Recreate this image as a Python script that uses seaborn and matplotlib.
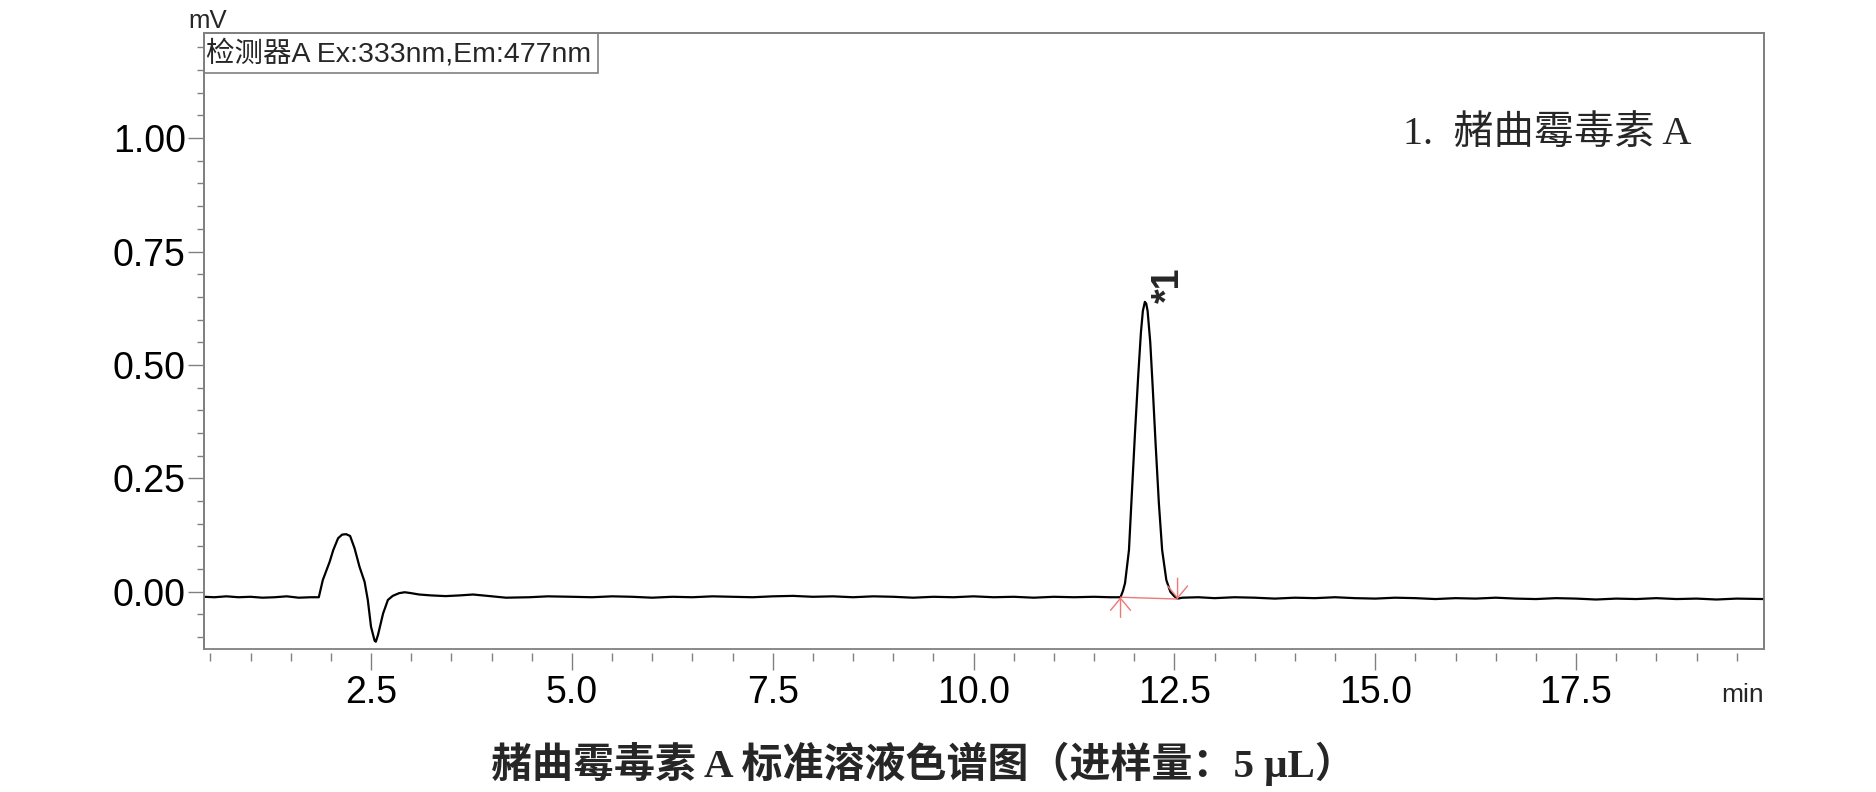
import numpy as np
import pandas as pd
import matplotlib
matplotlib.use('Agg')
import matplotlib.pyplot as plt
import matplotlib.ticker as mticker
from matplotlib.patches import Rectangle
import seaborn as sns

# chromatogram trace (time in min, signal in mV)
base1_t = [0.42, 0.55, 0.70, 0.85, 1.00, 1.15, 1.30, 1.45, 1.60, 1.75, 1.85]
base1_v = [-0.011, -0.012, -0.010, -0.012, -0.011, -0.013, -0.012, -0.010, -0.013, -0.012, -0.012]

void_t = [1.90, 1.985, 2.03, 2.09, 2.14, 2.19, 2.24, 2.295, 2.357, 2.42, 2.46, 2.50,
          2.545, 2.56, 2.587, 2.65, 2.71, 2.77, 2.85, 2.92, 3.00, 3.10]
void_v = [0.026, 0.066, 0.092, 0.118, 0.126, 0.127, 0.123, 0.096, 0.055, 0.022, -0.018, -0.077,
          -0.108, -0.110, -0.095, -0.048, -0.018, -0.009, -0.003, -0.001, -0.003, -0.006]

base2_t = [3.25, 3.43, 3.60, 3.77, 3.95, 4.18, 4.47, 4.70, 5.00, 5.25, 5.50, 5.75, 6.00,
           6.25, 6.50, 6.75, 7.00, 7.25, 7.50, 7.75, 8.00, 8.25, 8.50, 8.75, 9.00, 9.25,
           9.50, 9.75, 10.00, 10.25, 10.50, 10.75, 11.00, 11.25, 11.50, 11.70, 11.83]
base2_v = [-0.008, -0.0095, -0.008, -0.006, -0.009, -0.013, -0.012, -0.010, -0.011, -0.012,
           -0.010, -0.011, -0.013, -0.011, -0.012, -0.010, -0.011, -0.012, -0.010, -0.009,
           -0.011, -0.010, -0.012, -0.010, -0.011, -0.013, -0.011, -0.012, -0.010, -0.012,
           -0.011, -0.013, -0.011, -0.012, -0.011, -0.012, -0.012]

peak_t = [11.86, 11.886, 11.935, 11.967, 12.01, 12.05, 12.084, 12.108, 12.133, 12.15,
          12.167, 12.20, 12.232, 12.266, 12.307, 12.348, 12.40, 12.45, 12.50, 12.54]
peak_v = [0.002, 0.019, 0.092, 0.203, 0.350, 0.476, 0.572, 0.619, 0.639, 0.635,
          0.619, 0.550, 0.446, 0.328, 0.196, 0.092, 0.026, 0.000, -0.010, -0.015]

base3_t = [12.60, 12.80, 13.00, 13.25, 13.50, 13.75, 14.00, 14.25, 14.50, 14.75, 15.00,
           15.25, 15.50, 15.75, 16.00, 16.25, 16.50, 16.75, 17.00, 17.25, 17.50, 17.75,
           18.00, 18.25, 18.50, 18.75, 19.00, 19.25, 19.50, 19.84]
base3_v = [-0.013, -0.012, -0.014, -0.012, -0.013, -0.015, -0.013, -0.014, -0.012, -0.014,
           -0.015, -0.013, -0.014, -0.016, -0.014, -0.015, -0.013, -0.015, -0.016, -0.014,
           -0.015, -0.017, -0.015, -0.016, -0.014, -0.016, -0.015, -0.017, -0.015, -0.016]

# integration marks of peak 1
peak_start = (11.83, -0.012)
peak_end = (12.54, -0.016)
peak_apex = (12.133, 0.639)
peak_label = '*1'

x_major = [2.5, 5.0, 7.5, 10.0, 12.5, 15.0, 17.5]
y_major = [0.0, 0.25, 0.50, 0.75, 1.00]

detector_text = '检测器A Ex:333nm,Em:477nm'
legend_text = '1.  赭曲霉毒素 A'
caption = '赭曲霉毒素 A 标准溶液色谱图（进样量：5 μL）'

df = pd.DataFrame({
    'time': base1_t + void_t + base2_t + peak_t + base3_t,
    'signal': base1_v + void_v + base2_v + peak_v + base3_v,
})

sns.set_theme(style='white')
plt.rcParams['font.family'] = ['Liberation Sans', 'Noto Sans CJK SC', 'DejaVu Sans']
plt.rcParams['axes.unicode_minus'] = False

fig = plt.figure(figsize=(18.76, 7.92), dpi=100)
ax = fig.add_axes([0.1087, 0.1806, 0.8316, 0.7774])

sns.lineplot(data=df, x='time', y='signal', color='black', linewidth=1.6, ax=ax)

ax.set_xlim(0.42, 19.84)
ax.set_ylim(-0.126, 1.231)

red = '#ee7777'
ax.plot([peak_start[0], peak_end[0]], [peak_start[1], peak_end[1]], color=red, lw=1)
arrow = dict(arrowstyle='->,head_length=0.72,head_width=0.6', color=red, lw=1,
             shrinkA=0, shrinkB=0)
ax.annotate('', xy=peak_start, xytext=(0, -14.5), textcoords='offset points', arrowprops=arrow)
ax.annotate('', xy=peak_end, xytext=(0, 15), textcoords='offset points', arrowprops=arrow)

ax.annotate(peak_label, xy=peak_apex, xytext=(17, 12), textcoords='offset points',
            rotation=90, ha='center', va='center', fontsize=27, fontweight='bold')

# frame
gray = '#808080'
for s in ['left', 'right', 'top']:
    ax.spines[s].set_color(gray)
    ax.spines[s].set_linewidth(1.3)
ax.spines['bottom'].set_visible(False)
ax.spines['bottom'].set_position(('outward', 3))
ax.add_patch(Rectangle((0, 0), 1, 1, transform=ax.transAxes, fill=False,
                       ec=gray, lw=1.3, clip_on=False))

ax.xaxis.set_major_locator(mticker.FixedLocator(x_major))
ax.xaxis.set_minor_locator(mticker.MultipleLocator(0.5))
ax.yaxis.set_major_locator(mticker.FixedLocator(y_major))
ax.yaxis.set_minor_locator(mticker.MultipleLocator(0.05))
ax.xaxis.set_major_formatter(mticker.FormatStrFormatter('%.1f'))
ax.yaxis.set_major_formatter(mticker.FormatStrFormatter('%.2f'))

ax.tick_params(axis='both', which='both', direction='out', color=gray, width=1,
               labelsize=27, labelcolor='black')
ax.tick_params(axis='x', which='both', bottom=True, top=False)
ax.tick_params(axis='y', which='both', left=True, right=False)
ax.tick_params(axis='x', which='major', length=12, pad=4)
ax.tick_params(axis='x', which='minor', length=5.5)
ax.tick_params(axis='y', which='major', length=11.5, pad=1.5)
ax.tick_params(axis='y', which='minor', length=5)
ax.set_xlabel('')
ax.set_ylabel('')
ax.grid(False)

# detector box in the top-left corner
ax.add_patch(Rectangle((0, 1 - 0.065), 0.2526, 0.065, transform=ax.transAxes,
                       fill=False, ec=gray, lw=1.2))
ax.text(0.0015, 1 - 0.0325, detector_text, transform=ax.transAxes, ha='left', va='center',
        fontsize=20.5)

ax.text(0.861, 0.835, legend_text, transform=ax.transAxes, ha='center', va='center',
        fontsize=29, family=['Liberation Serif', 'Noto Sans CJK SC'])

fig.text(0.1002, 0.9646, 'mV', ha='left', va='baseline', fontsize=18.5)
fig.text(0.9403, 0.114, 'min', ha='right', va='baseline', fontsize=19)

fig.text(0.492, 0.036, caption, ha='center', va='center', fontsize=29.5, fontweight='bold',
         family=['Liberation Serif', 'Noto Sans CJK SC'])

plt.savefig('out.png', dpi=100)
